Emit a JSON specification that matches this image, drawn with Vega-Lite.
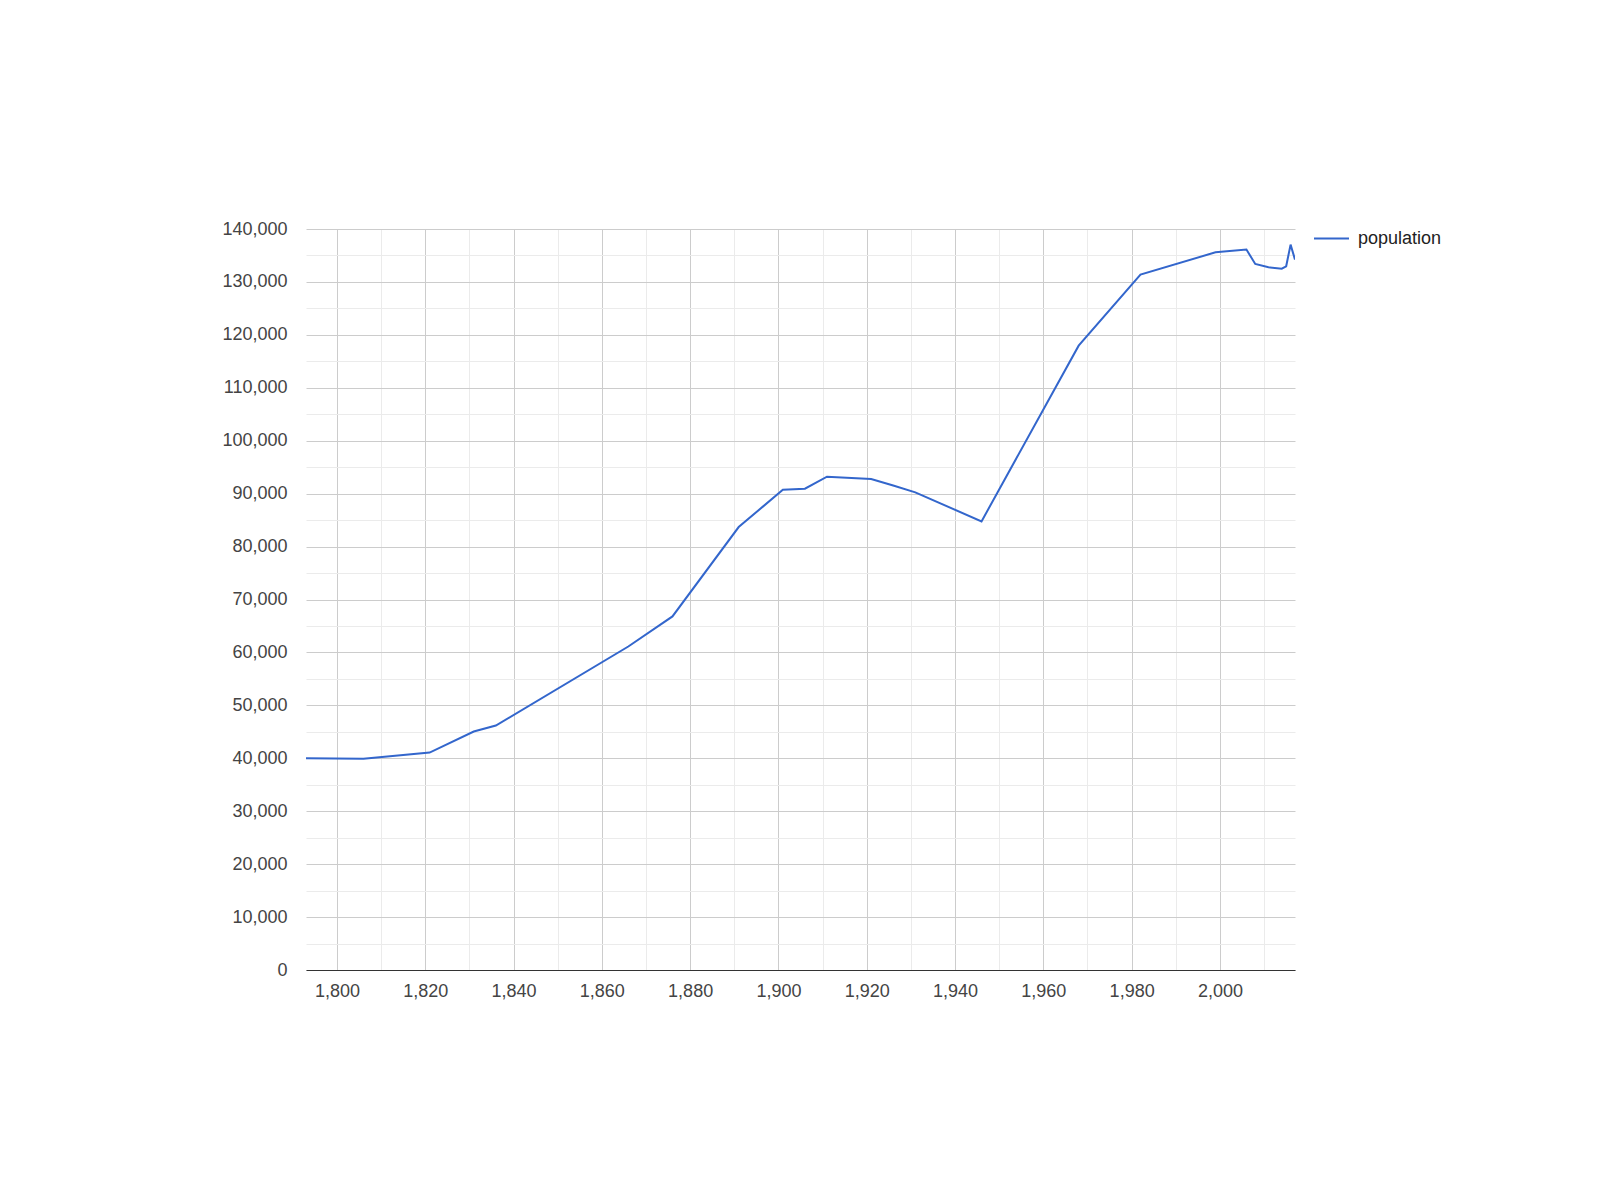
{
  "$schema": "https://vega.github.io/schema/vega-lite/v6.json",
  "width": 989,
  "height": 741,
  "autosize": {"type": "none"},
  "padding": {"left": 306, "top": 229, "right": 305, "bottom": 230},
  "background": "white",
  "config": {
    "view": {"stroke": null},
    "font": "Liberation Sans",
    "axis": {"labelFont": "Liberation Sans", "labelFontSize": 18, "labelColor": "#444444", "titleFontSize": 18}
  },
  "data": {
    "values": [
      {"year": 1793, "population": 40000},
      {"year": 1806, "population": 39900},
      {"year": 1821, "population": 41080},
      {"year": 1831, "population": 45050},
      {"year": 1836, "population": 46180},
      {"year": 1866, "population": 61120},
      {"year": 1876, "population": 66800},
      {"year": 1891, "population": 83690},
      {"year": 1901, "population": 90740},
      {"year": 1906, "population": 90930},
      {"year": 1911, "population": 93200},
      {"year": 1921, "population": 92760},
      {"year": 1926, "population": 91550},
      {"year": 1931, "population": 90250},
      {"year": 1946, "population": 84750},
      {"year": 1968, "population": 117960},
      {"year": 1982, "population": 131380},
      {"year": 1999, "population": 135600},
      {"year": 2006, "population": 136110},
      {"year": 2008, "population": 133400},
      {"year": 2011, "population": 132760},
      {"year": 2014, "population": 132510},
      {"year": 2015, "population": 132950},
      {"year": 2016, "population": 137050},
      {"year": 2017, "population": 134220}
    ]
  },
  "mark": {"type": "line", "strokeWidth": 2, "clip": true},
  "encoding": {
    "x": {
      "field": "year",
      "type": "quantitative",
      "scale": {"domain": [1793, 2017], "nice": false, "zero": false},
      "axis": {
        "title": null,
        "values": [1800, 1810, 1820, 1830, 1840, 1850, 1860, 1870, 1880, 1890, 1900, 1910, 1920, 1930, 1940, 1950, 1960, 1970, 1980, 1990, 2000, 2010],
        "labelExpr": "datum.value % 20 === 0 ? format(datum.value, ',') : ''",
        "grid": true,
        "gridColor": {"condition": {"test": "datum.value % 20 === 0", "value": "#cccccc"}, "value": "#ebebeb"},
        "gridWidth": 1,
        "ticks": false,
        "labelPadding": 12,
        "domainColor": "#333333",
        "domainWidth": 1,
        "labelFlush": false
      }
    },
    "y": {
      "field": "population",
      "type": "quantitative",
      "scale": {"domain": [0, 140000], "nice": false},
      "axis": {
        "title": null,
        "values": [0, 5000, 10000, 15000, 20000, 25000, 30000, 35000, 40000, 45000, 50000, 55000, 60000, 65000, 70000, 75000, 80000, 85000, 90000, 95000, 100000, 105000, 110000, 115000, 120000, 125000, 130000, 135000, 140000],
        "labelExpr": "datum.value % 10000 === 0 ? format(datum.value, ',') : ''",
        "grid": true,
        "gridColor": {"condition": {"test": "datum.value % 10000 === 0", "value": "#cccccc"}, "value": "#ebebeb"},
        "ticks": false,
        "domain": false,
        "labelPadding": 19
      }
    },
    "color": {
      "datum": "population",
      "type": "nominal",
      "scale": {"range": ["#3366cc"]},
      "legend": {
        "title": null,
        "orient": "none",
        "legendX": 1007,
        "legendY": -9,
        "padding": 0,
        "symbolType": "stroke",
        "symbolSize": 1225,
        "symbolStrokeWidth": 2,
        "labelFontSize": 18,
        "labelFont": "Liberation Sans",
        "labelColor": "#222222",
        "labelOffset": 8
      }
    }
  }
}
